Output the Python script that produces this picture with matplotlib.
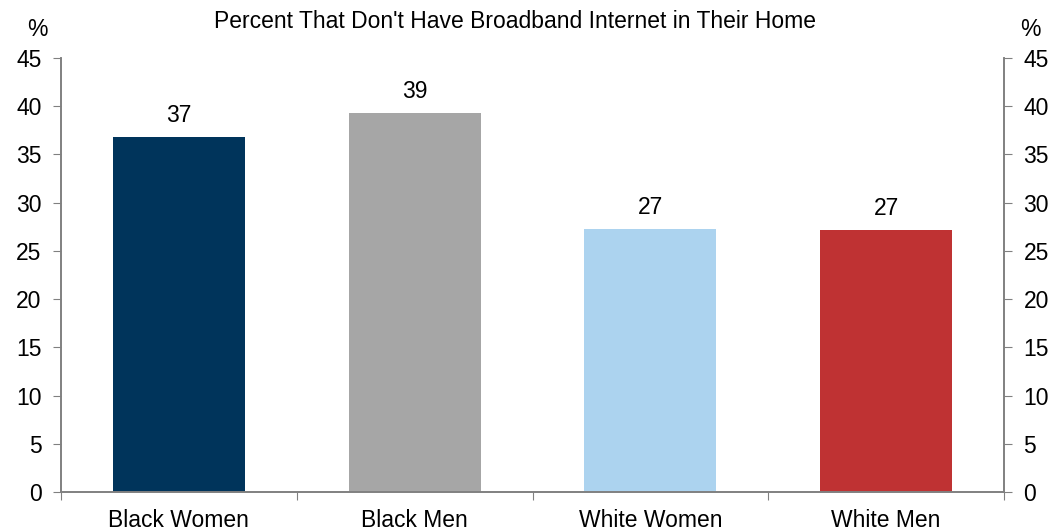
import matplotlib
matplotlib.use("Agg")
import matplotlib.pyplot as plt
import numpy as np

categories = ["Black Women", "Black Men", "White Women", "White Men"]
values = [36.8, 39.3, 27.3, 27.2]
colors = ["#00345b", "#a6a6a6", "#acd3ef", "#bf3233"]
yticks = [0, 5, 10, 15, 20, 25, 30, 35, 40, 45]
title = "Percent That Don't Have Broadband Internet in Their Home"

plt.rcParams['font.family'] = ['Liberation Sans', 'DejaVu Sans']
fs = 16.5

fig = plt.figure(figsize=(10.5, 5.29), dpi=100)
ax = fig.add_axes([61/1050, 37/529, 943/1050, 434/529])
x = np.arange(len(categories))
bars = ax.bar(x, values, width=0.56, color=colors, zorder=2)
ax.set_xlim(-0.5, len(categories) - 0.5)
ax.set_ylim(0, 45)
ax.set_yticks(yticks)
ax.tick_params(axis='y', labelsize=fs, direction='out', length=6, color='#808080', pad=8)
ax.set_xticks(np.arange(-0.5, len(categories), 1.0))
ax.set_xticklabels([])
ax.set_xticks(x, minor=True)
ax.set_xticklabels(categories, minor=True, fontsize=fs)
ax.tick_params(axis='x', which='major', direction='out', length=6, color='#808080')
ax.tick_params(axis='x', which='minor', length=0, pad=12)
for s in ['left', 'right', 'bottom']:
    ax.spines[s].set_color('#808080')
    ax.spines[s].set_linewidth(1.2)
ax.spines['top'].set_visible(False)

ax2 = ax.twinx()
ax2.set_ylim(0, 45)
ax2.set_yticks(yticks)
ax2.tick_params(axis='y', labelsize=fs, direction='out', length=6, color='#808080', pad=8)
for s in ['left', 'right', 'bottom']:
    ax2.spines[s].set_color('#808080')
    ax2.spines[s].set_linewidth(1.2)
ax2.spines['top'].set_visible(False)

for xi, v in zip(x, values):
    ax.annotate(f"{v:.0f}", (xi, v), xytext=(0, 7), textcoords='offset points',
                ha='center', va='bottom', fontsize=fs)

fig.text(515/1050, 1 - 22/529, title, ha='center', va='center', fontsize=fs)
fig.text(37/1050, 1 - 29/529, "%", ha='center', va='center', fontsize=fs)
fig.text(1030/1050, 1 - 29/529, "%", ha='center', va='center', fontsize=fs)

fig.savefig("out.png", dpi=100)
